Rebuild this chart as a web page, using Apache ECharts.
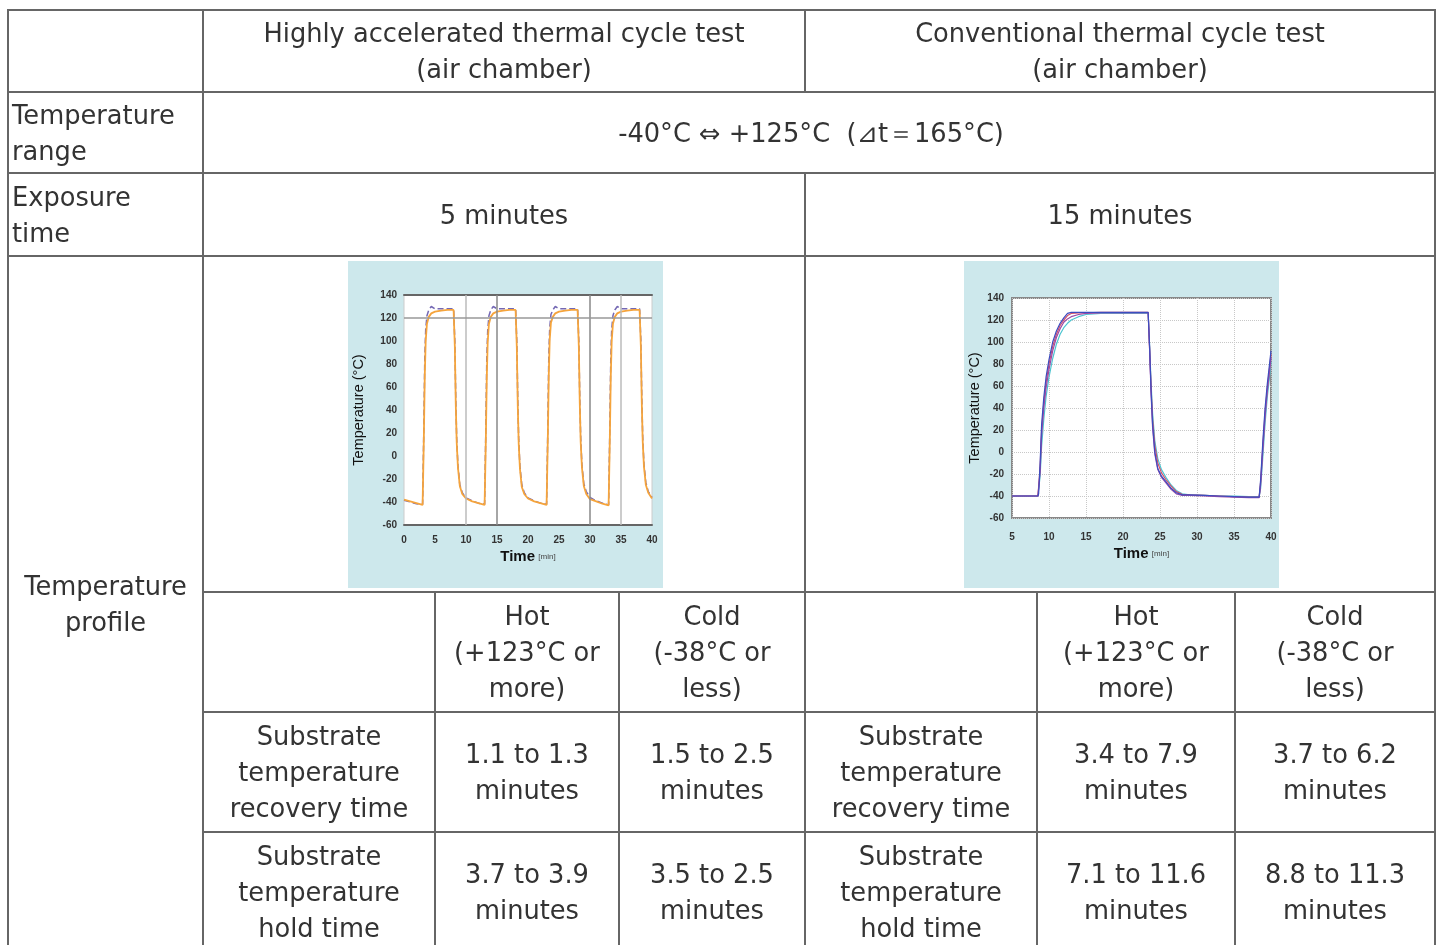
<!DOCTYPE html>
<html>
<head>
<meta charset="utf-8">
<script src="https://cdn.jsdelivr.net/npm/echarts@6.0.0/dist/echarts.min.js"></script>
<style>
  html, body { margin: 0; padding: 0; background: #fff; }
  #main { width: 1439px; height: 945px; }
</style>
</head>
<body>
<div id="main"></div>
<script>
// table texts
const cycleTests = ['Highly accelerated thermal cycle test\n(air chamber)', 'Conventional thermal cycle test\n(air chamber)']
const rowLabels = ['Temperature\nrange', 'Exposure\ntime', 'Temperature\nprofile']
const temperatureRange = '-40°C ⇔ +125°C  (⊿t＝165°C)'
const exposureTimes = ['5 minutes', '15 minutes']
const phaseLabels = ['Hot\n(+123°C or\nmore)', 'Cold\n(-38°C or\nless)']
const metricLabels = ['Substrate\ntemperature\nrecovery time', 'Substrate\ntemperature\nhold time']
const recoveryTimes = [['1.1 to 1.3', '1.5 to 2.5'], ['3.4 to 7.9', '3.7 to 6.2']]
const holdTimes = [['3.7 to 3.9', '3.5 to 2.5'], ['7.1 to 11.6', '8.8 to 11.3']]

// highly accelerated test profile (time in min, temperature in °C)
const hatTime = [0, 1, 2, 3, 3.1, 3.2, 3.35, 3.5, 3.7, 4.0, 4.4, 5, 6, 7, 8, 8.1, 8.2, 8.35, 8.5, 8.7, 9.0, 9.4, 10,
  11, 12, 13, 13.1, 13.2, 13.35, 13.5, 13.7, 14.0, 14.4, 15, 16, 17, 18, 18.1, 18.2, 18.35, 18.5, 18.7, 19.0, 19.4, 20,
  21, 22, 23, 23.1, 23.2, 23.35, 23.5, 23.7, 24.0, 24.4, 25, 26, 27, 28, 28.1, 28.2, 28.35, 28.5, 28.7, 29.0, 29.4, 30,
  31, 32, 33, 33.1, 33.2, 33.35, 33.5, 33.7, 34.0, 34.4, 35, 36, 37, 38, 38.1, 38.2, 38.35, 38.5, 38.7, 39.0, 39.4, 40]
const hatOrange = [-38, -39.5, -41, -42.5, -43, 15, 70, 100, 115, 121, 124, 125.5, 126.5, 127, 127, 127, 95, 45, 12, -10, -26, -33, -37,
  -39.5, -41, -42.5, -43, 14, 68, 99, 115, 121, 124, 125.5, 126.5, 127, 127, 127, 94, 44, 11, -11, -27, -33, -37,
  -39.5, -41, -42.5, -43, 16, 70, 101, 116, 121, 124, 125.5, 126.5, 127, 127, 127, 95, 46, 12, -10, -26, -33, -37.5,
  -39.5, -41.5, -43, -43.5, 15, 69, 100, 115, 121, 124, 125.5, 126.5, 127, 127, 127, 96, 47, 13, -9, -25, -32, -37]
const hatPurple = [-38.5, -40, -41.5, -42, -42.5, 25, 85, 110, 122, 127, 130, 128, 128, 128, 128, 127.5, 100, 50, 15, -8, -25, -32, -36.5,
  -39, -41, -42, -42.5, 24, 84, 109, 122, 127, 130, 128, 128, 128, 128, 127.5, 99, 49, 14, -9, -25, -32, -36.5,
  -39, -41, -42, -42.5, 26, 86, 111, 123, 127, 130, 128, 128, 128, 128, 127.5, 100, 51, 16, -8, -24, -31, -36,
  -39, -41, -42.5, -43, 25, 85, 110, 122, 127, 130, 128, 128, 128, 128, 127.5, 101, 52, 17, -7, -23, -31, -36]
const hatMarkX = [10, 15, 30, 35]
const hatMarkY = [120]

// conventional test profile
const ctTime = [5, 6, 7, 8, 8.5, 8.6, 8.8, 9.0, 9.3, 9.6, 10, 10.5, 11, 11.5, 12, 12.5, 13, 14, 15, 17, 20, 23,
  23.4, 23.6, 23.8, 24.0, 24.3, 24.7, 25.2, 25.8, 26.5, 27.2, 28, 29, 31, 33, 35, 37, 38.4, 38.6, 38.9, 39.2, 39.5, 39.8, 40]
const ctBlue = [-40, -40, -40, -40, -40, -38, -10, 25, 50, 68, 84, 100, 110, 117, 122, 126, 127, 127, 127, 127, 127, 127,
  127, 95, 55, 25, 0, -15, -22, -27, -33, -37, -39, -39, -39.5, -40, -40.5, -41, -41, -25, 10, 40, 62, 80, 92]
const ctPurple = [-40, -40, -40, -40, -40, -39, -18, 15, 40, 58, 75, 92, 104, 112, 118, 121, 123, 125, 126, 126.5, 126.5, 126.5,
  126.5, 92, 52, 22, -2, -16, -23, -28, -34, -38, -39.5, -39.5, -40, -40.5, -41, -41.5, -41.5, -30, 2, 32, 55, 73, 86]
const ctRed = [-40, -40, -40, -40, -40, -38.5, -14, 20, 45, 63, 80, 96, 107, 115, 120, 124, 126, 126.5, 126.5, 127, 127, 127,
  127, 93, 58, 30, 6, -10, -19, -25, -31, -36, -38.5, -39, -39.5, -40, -40.5, -41, -41, -27, 6, 36, 58, 76, 89]
const ctCyan = [-40, -40, -40, -40, -40, -39.5, -22, 5, 30, 50, 68, 85, 98, 107, 113, 117, 120, 123, 125, 126, 126, 126,
  126, 96, 62, 35, 10, -6, -16, -23, -30, -35, -38, -39, -39.5, -40, -40, -40.5, -40.5, -33, -4, 26, 50, 68, 82]

const FONT = 'DejaVu Sans'
const TXT = '#333'
const LINE = '#666'
const IMG_BG = '#cde8ec'

const pairs = (xs, ys) => xs.map((x, i) => [x, ys[i]])

const hline = (x1, x2, y) => ({ type: 'line', silent: true, shape: { x1, y1: y, x2, y2: y }, style: { stroke: LINE, lineWidth: 2 } })
const vline = (x, y1, y2) => ({ type: 'line', silent: true, shape: { x1: x, y1, x2: x, y2 }, style: { stroke: LINE, lineWidth: 2 } })
const cell = (x, y, text, align) => ({
  type: 'text',
  silent: true,
  x: x,
  y: y + 2.5,
  style: {
    text: text,
    fill: TXT,
    fontFamily: FONT,
    fontSize: 25.7,
    lineHeight: 36,
    align: align || 'center',
    verticalAlign: 'middle',
    textAlign: align || 'center',
    textVerticalAlign: 'middle'
  }
})

const graphic = []
// chart image backgrounds
graphic.push({ type: 'rect', z: -10, silent: true, shape: { x: 348, y: 261, width: 315, height: 327 }, style: { fill: IMG_BG } })
graphic.push({ type: 'rect', z: -10, silent: true, shape: { x: 964, y: 261, width: 315, height: 327 }, style: { fill: IMG_BG } })

// table grid
const BOTTOM = 952
graphic.push(hline(7, 1436, 10), hline(7, 1436, 92), hline(7, 1436, 173), hline(7, 1436, 256))
graphic.push(hline(203, 1436, 592), hline(203, 1436, 712), hline(203, 1436, 832))
graphic.push(vline(8, 9, BOTTOM), vline(1435, 9, BOTTOM), vline(203, 9, BOTTOM))
graphic.push(vline(805, 9, 92), vline(805, 173, BOTTOM))
;[435, 619, 1037, 1235].forEach(x => graphic.push(vline(x, 592, BOTTOM)))

// table texts
graphic.push(cell(504, 51, cycleTests[0]), cell(1120, 51, cycleTests[1]))
graphic.push(cell(12, 132.5, rowLabels[0], 'left'), cell(12, 214.5, rowLabels[1], 'left'), cell(105.5, 604, rowLabels[2]))
graphic.push(cell(811, 132.5, temperatureRange))
graphic.push(cell(504, 214.5, exposureTimes[0]), cell(1120, 214.5, exposureTimes[1]))
const metricX = [319, 921]
const phaseX = [[527, 712], [1136, 1335]]
for (let t = 0; t < 2; t++) {
  graphic.push(cell(phaseX[t][0], 652, phaseLabels[0]), cell(phaseX[t][1], 652, phaseLabels[1]))
  graphic.push(cell(metricX[t], 772, metricLabels[0]), cell(metricX[t], 892, metricLabels[1]))
  for (let p = 0; p < 2; p++) {
    graphic.push(cell(phaseX[t][p], 772, recoveryTimes[t][p] + '\nminutes'))
    graphic.push(cell(phaseX[t][p], 892, holdTimes[t][p] + '\nminutes'))
  }
}

const tickLabel = { fontFamily: 'Liberation Sans', fontSize: 10, fontWeight: 'bold', color: '#333' }
const yName = {
  name: 'Temperature (°C)',
  nameLocation: 'middle',
  nameRotate: 90,
  nameTextStyle: { fontFamily: 'Liberation Sans', fontSize: 14.5, color: '#111' }
}
const xName = {
  name: '{a|Time} {b|[min]}',
  nameLocation: 'middle',
  nameTextStyle: {
    rich: {
      a: { fontFamily: 'Liberation Sans', fontSize: 15, fontWeight: 'bold', color: '#111' },
      b: { fontFamily: 'Liberation Sans', fontSize: 8, color: '#444' }
    }
  }
}

const option = {
  animation: false,
  backgroundColor: '#fff',
  graphic: graphic,
  grid: [
    { left: 404, top: 295, width: 248, height: 230, show: true, backgroundColor: '#fff', borderColor: '#ccc', borderWidth: 1 },
    { left: 1012, top: 298, width: 259, height: 220, show: true, backgroundColor: '#fff', borderColor: '#888', borderWidth: 2 }
  ],
  xAxis: [
    Object.assign({
      type: 'value', gridIndex: 0, min: 0, max: 40, interval: 5,
      axisLine: { onZero: false, lineStyle: { color: '#666', width: 2 } },
      axisTick: { show: false },
      splitLine: { show: false },
      axisLabel: Object.assign({ margin: 10 }, tickLabel),
      nameGap: 24
    }, xName),
    {
      type: 'value', gridIndex: 0, position: 'top', min: 0, max: 40,
      axisLine: { onZero: false, lineStyle: { color: '#666', width: 2 } },
      axisTick: { show: false }, axisLabel: { show: false }, splitLine: { show: false }
    },
    Object.assign({
      type: 'value', gridIndex: 1, min: 5, max: 40, interval: 5,
      axisLine: { show: false, onZero: false },
      axisTick: { show: false },
      splitLine: { lineStyle: { color: '#c8c8c8', type: 'dotted' } },
      axisLabel: Object.assign({ margin: 14 }, tickLabel),
      nameGap: 28
    }, xName)
  ],
  yAxis: [
    Object.assign({
      type: 'value', gridIndex: 0, min: -60, max: 140, interval: 20,
      axisLine: { show: false, onZero: false },
      axisTick: { show: false },
      splitLine: { show: false },
      axisLabel: Object.assign({ margin: 7 }, tickLabel),
      nameGap: 38
    }, yName),
    Object.assign({
      type: 'value', gridIndex: 1, min: -60, max: 140, interval: 20,
      axisLine: { show: false, onZero: false },
      axisTick: { show: false },
      splitLine: { lineStyle: { color: '#c8c8c8', type: 'dotted' } },
      axisLabel: Object.assign({ margin: 8 }, tickLabel),
      nameGap: 30
    }, yName)
  ],
  series: [
    {
      type: 'line', xAxisIndex: 0, yAxisIndex: 0, showSymbol: false,
      data: pairs(hatTime, hatPurple),
      lineStyle: { color: '#7468b4', width: 1.5, type: 'dashed' },
      markLine: {
        silent: true, symbol: 'none', label: { show: false },
        data: hatMarkX.map((x, i) => ({ xAxis: x, lineStyle: { color: (i === 0 || i === 3) ? '#bbb' : '#888', width: 1.5, type: 'solid' } }))
          .concat(hatMarkY.map(y => ({ yAxis: y, lineStyle: { color: '#999', width: 1.5, type: 'solid' } })))
      },
      z: 3
    },
    {
      type: 'line', xAxisIndex: 0, yAxisIndex: 0, showSymbol: false,
      data: pairs(hatTime, hatOrange),
      lineStyle: { color: '#f5a43c', width: 1.8 },
      z: 4
    },
    { type: 'line', xAxisIndex: 2, yAxisIndex: 1, showSymbol: false, data: pairs(ctTime, ctCyan), lineStyle: { color: '#4cc4d0', width: 1.2 } },
    { type: 'line', xAxisIndex: 2, yAxisIndex: 1, showSymbol: false, data: pairs(ctTime, ctRed), lineStyle: { color: '#d2506a', width: 1.2 } },
    { type: 'line', xAxisIndex: 2, yAxisIndex: 1, showSymbol: false, data: pairs(ctTime, ctPurple), lineStyle: { color: '#9a4aa8', width: 1.2 } },
    { type: 'line', xAxisIndex: 2, yAxisIndex: 1, showSymbol: false, data: pairs(ctTime, ctBlue), lineStyle: { color: '#3c4cc0', width: 1.2 } }
  ]
}

const chart = echarts.init(document.getElementById('main'), null, { renderer: 'canvas' })
chart.setOption(option)
</script>
</body>
</html>
